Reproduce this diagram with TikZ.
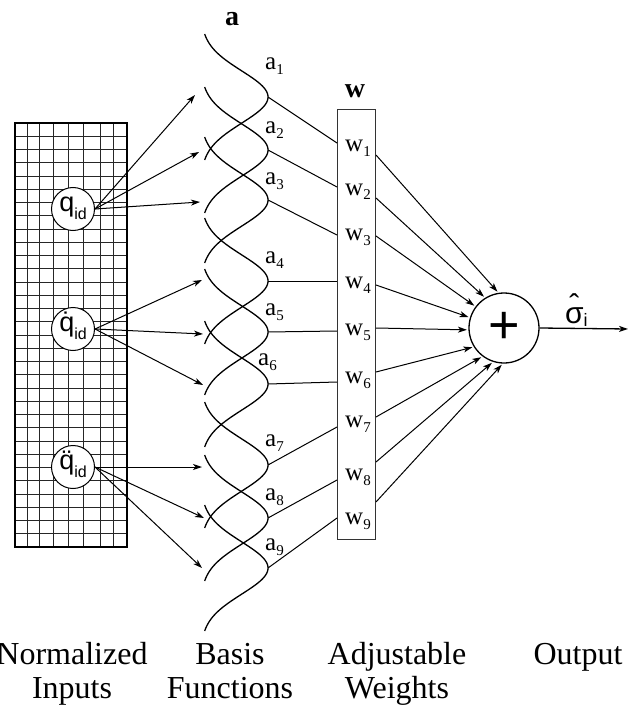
\documentclass[tikz,border=0pt]{standalone}
\usepackage{fontspec}
\setmainfont{Liberation Serif}
\setsansfont{Liberation Sans}
\usetikzlibrary{arrows.meta}
\newcommand\sbx[2][15]{\raisebox{-5pt}{\fontsize{#1}{#1}\selectfont #2}}
\newcommand\qsub[1]{\raisebox{-8pt}{\fontsize{16}{16}\selectfont #1}}
\begin{document}
\begin{tikzpicture}[x=1pt,y=-1pt,
  gridl/.style={line width=0.7pt,black!85},
  bf/.style={line width=1.3pt},
  lnk/.style={line width=1pt},
  arr/.style={line width=1pt,-{Stealth[length=9pt,width=6pt,inset=2.5pt]}},
  inp/.style={circle,draw,fill=white,line width=1pt,minimum size=43pt,inner sep=0pt,
    text height=13pt,text depth=8pt,font=\sffamily\fontsize{27}{27}\selectfont},
  alab/.style={anchor=base west,inner sep=0pt,font=\fontsize{25}{25}\selectfont},
  blab/.style={anchor=base,inner sep=0pt,font=\bfseries\fontsize{28}{28}\selectfont},
  bottom/.style={anchor=base,align=center,inner sep=0pt,font=\fontsize{32}{34}\selectfont}]
\useasboundingbox (0,0) rectangle (630,714);
% grid of normalized inputs
\foreach \xx in {27,39,53,68,83,100,113} \draw[gridl] (\xx,123) -- (\xx,547);
\foreach \k in {1,...,31} \draw[gridl] (15,{123+\k*13.25}) -- (127,{123+\k*13.25});
\draw[line width=1.2pt] (15,123) rectangle (127,547);
% input nodes
\node[inp] (q1) at (73,209) {q\qsub{id}};
\node[inp] (q2) at (73,329) {\ooalign{q\cr\hidewidth ˙\hidewidth\cr}\qsub{id}};
\node[inp] (q3) at (73,467) {\ooalign{q\cr\hidewidth ¨\hidewidth\cr}\qsub{id}};
% arrow targets
\coordinate (t1) at (195,95);
\coordinate (t2) at (199,152);
\coordinate (t3) at (200,202);
\coordinate (t4) at (202,280);
\coordinate (t5) at (203,334);
\coordinate (t6) at (203,385);
\coordinate (t7) at (202,467);
\coordinate (t8) at (204,518);
\coordinate (t9) at (202,568);
\foreach \t in {1,2,3} \draw[arr] (q1.east) -- (t\t);
\foreach \t in {4,5,6} \draw[arr] (q2.east) -- (t\t);
\foreach \t in {7,8,9} \draw[arr] (q3.east) -- (t\t);
% basis functions
\foreach \p in {97,150,200,281,332,384,465,518,568}
  \draw[bf] plot[domain=-63:63,samples=90,smooth] ({201+67*exp(-(\x)*(\x)/1369)},{\p+\x});
\node[blab] (abold) at (232,26) {a};
% weights box
\node[draw,line width=1pt,black!80,minimum width=38pt,minimum height=429pt,inner sep=0pt] (W) at (356,324.5) {};
\node[blab] (wbold) at (355,98) {w};
% sum node
\node[circle,draw,line width=1.3pt,minimum size=70pt,inner sep=0pt,
  font=\sffamily\fontsize{54}{54}\selectfont] (sum) at (504,328) {+};
\foreach \i/\p/\lx/\ly/\ey/\sy/\ang/\wy in {
  1/97/265/70/143/155/99/152,
  2/150/265/134/187/198/122/195,
  3/200/265/185/235/236/143/240,
  4/281/265/263/281/285/163/288,
  5/332/265/315/331/328/183/335,
  6/384/258/365/382/372/212/383,
  7/465/265/446/427/417/233/427,
  8/518/265/500/480/462/252/480,
  9/568/265/550/518/502/268/524}{
  \coordinate (pk\i) at (268,\p);
  \coordinate (e\i) at (337,\ey);
  \coordinate (s\i) at (376,\sy);
  \node[alab] (la\i) at (\lx,\ly) {a\sbx{\i}};
  \node[alab] (lw\i) at (345,\wy) {w\sbx{\i}};
  \draw[lnk] (pk\i) -- (e\i);
  \draw[arr,shorten >=1.5pt] (s\i) -- (sum.\ang);
}
% output
\coordinate (o) at (628,329);
\draw[arr,line width=1.3pt] (sum.east) -- (o);
\node[anchor=base west,inner sep=0pt,font=\sffamily\fontsize{30}{30}\selectfont] (sig) at (565,323)
  {\ooalign{σ\cr\hidewidth\raisebox{8pt}{ˆ}\hidewidth\cr}\raisebox{-3pt}{\fontsize{18}{18}\selectfont i}};
% bottom labels
\node[bottom] (l1) at (72,698) {Normalized\\Inputs};
\node[bottom] (l2) at (230,698) {Basis\\Functions};
\node[bottom] (l3) at (397,698) {Adjustable\\Weights};
\node[bottom] (l4) at (578,664) {Output};
\end{tikzpicture}
\end{document}
